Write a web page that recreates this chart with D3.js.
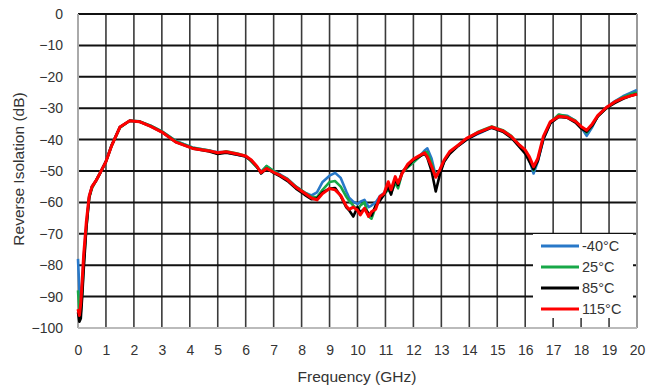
<!DOCTYPE html>
<html><head><meta charset="utf-8">
<script src="https://cdn.jsdelivr.net/npm/d3@7"></script>
<style>body{margin:0;background:#fff}svg{display:block}</style>
</head><body><svg id="c" width="647" height="389"></svg>
<script>
const freq = [
 0, 0.05, 0.1, 0.15, 0.2, 0.3, 0.4, 0.5, 0.65, 0.8,
 1.0, 1.2, 1.5, 1.85, 2.2, 2.6, 3.0, 3.5, 4.1, 4.7,
 5.0, 5.3, 5.7, 6.0, 6.2, 6.4, 6.55, 6.75, 7.0, 7.25,
 7.5, 7.8, 8.1, 8.35, 8.55, 8.75, 9.0, 9.2, 9.4, 9.6,
 9.7, 9.85, 10.0, 10.1, 10.25, 10.4, 10.5, 10.65, 10.8, 10.95, 11.1, 11.2, 11.35, 11.45, 11.6,
 11.8, 12.0, 12.2, 12.4, 12.5, 12.65, 12.8, 12.95, 13.1, 13.3,
 13.6, 13.9, 14.3, 14.8, 15.2, 15.5, 15.8, 16.0, 16.15, 16.3,
 16.45, 16.65, 16.9, 17.2, 17.5, 17.8, 18.0, 18.2, 18.4, 18.6,
 18.9, 19.2, 19.5, 19.8, 20.0];
const blueM40 = [
 -78, -88, -91, -86, -78, -67, -58, -55, -53, -50.5,
 -46.8, -41.8, -36, -34, -34.2, -35.6, -37.4, -40.4, -42.5, -43.5,
 -44, -44, -44.8, -45.4, -46.8, -48.8, -50.2, -48.5, -50, -51.2,
 -52.5, -55, -56.8, -57.8, -56.8, -53.5, -51.5, -50.6, -52.2, -56.5,
 -58.5, -59.8, -60.5, -59.8, -59.2, -61.5, -61, -60, -58, -57, -56, -57, -53.5, -55, -50.5,
 -48.5, -47.2, -45.5, -43.5, -42.8, -46, -51.5, -49.8, -47, -44.2,
 -42, -40, -38.2, -36.2, -37.2, -39.2, -42.2, -44, -46.5, -50.8,
 -47, -40, -34.8, -32.2, -32.4, -34, -36, -38.8, -36, -32.4,
 -29.8, -27.8, -26.2, -25, -24.2];
const green25 = [
 -88, -95, -95, -89, -80, -68, -58.5, -55.5, -53, -50.5,
 -47, -42, -36.2, -34, -34.2, -35.6, -37.4, -40.5, -42.6, -43.5,
 -44.5, -43.7, -44.4, -45.2, -47, -48.8, -50.4, -48.4, -50, -51.4,
 -52.6, -55, -56.8, -58.2, -58.4, -56, -53.5, -53.2, -55, -58.2,
 -59.5, -61, -62.5, -61, -60, -64.5, -65.2, -61.5, -59, -57.5, -55.8, -57, -53.8, -55.5, -50.5,
 -48.8, -47.2, -45.6, -44, -44, -47.5, -51.8, -50.2, -47, -44.2,
 -41.8, -39.8, -37.6, -35.8, -37, -38.8, -41.8, -43.5, -46, -49.8,
 -46.5, -39.5, -34.5, -32, -32.6, -34, -36, -37.8, -35.5, -32.5,
 -30, -28, -26.5, -25.5, -25];
const black85 = [
 -95, -98, -97, -90, -82, -68, -58.5, -55, -53, -50.5,
 -47, -42, -36, -34, -34.3, -35.8, -37.6, -40.8, -42.8, -43.8,
 -44.6, -44.2, -44.8, -45.4, -46.6, -48.6, -50.8, -49.2, -50.6, -51.8,
 -53.2, -55.6, -57.5, -59, -58.8, -56.8, -55.6, -55.4, -58, -61.6,
 -62.5, -64.5, -61.5, -63.2, -62, -63.5, -64.2, -61, -59.5, -57.5, -55, -57.5, -52.5, -54.5, -50.2,
 -48.5, -46.5, -45.5, -44.5, -45.8, -50, -56.5, -51, -47, -44.5,
 -42, -40, -38, -36.2, -37.5, -39.4, -42.4, -44.5, -47, -49.5,
 -46.8, -39.8, -34.8, -32.8, -33, -34.6, -36.4, -37.5, -35.5, -32.6,
 -30, -28.4, -27, -26, -25.5];
const red115 = [
 -94, -96, -92, -85, -77, -66, -58, -55, -53, -50.5,
 -47, -42, -36, -34, -34.3, -35.8, -37.6, -40.8, -42.8, -43.6,
 -44.2, -43.9, -44.6, -45.2, -46.5, -48.5, -50.5, -49.2, -50.4, -51.5,
 -52.8, -55.2, -57, -58.6, -59.2, -57.2, -55.6, -56, -57.8, -61.2,
 -62.2, -61.5, -62.5, -64, -61.9, -64.5, -63, -62.2, -58.2, -57.2, -53.4, -56, -51.8, -53.9, -50.7,
 -47.8, -46.2, -45.2, -44.2, -45.5, -48.5, -52, -49.5, -46.5, -43.8,
 -41.8, -39.6, -37.8, -36, -37.2, -39, -41.8, -43.3, -45.5, -48.6,
 -46, -39, -34.3, -32.6, -32.9, -34.2, -35.8, -37, -35, -32.3,
 -29.8, -28, -26.8, -26, -25.5];
const seriesNames = ["-40°C", "25°C", "85°C", "115°C"];
const seriesColors = ["#2878c8", "#18a848", "#000000", "#ff0000"];
const seriesValues = [blueM40, green25, black85, red115];
const xTicks = d3.range(0, 21, 1);
const yTicks = d3.range(-100, 1, 10);

const svg = d3.select("#c");
const x = d3.scaleLinear().domain([0, 20]).range([78, 637]);
const y = d3.scaleLinear().domain([-100, 0]).range([328, 14]);
const font = "'Liberation Sans', Arial, sans-serif";

// grid
svg.append("g").selectAll("line").data(xTicks.filter(d => d > 0 && d < 20)).join("line")
  .attr("x1", d => x(d)).attr("x2", d => x(d)).attr("y1", y(0)).attr("y2", y(-100))
  .attr("stroke", "#3a3a3a").attr("stroke-width", 1.6);
svg.append("g").selectAll("line").data(yTicks.filter(d => d > -100)).join("line")
  .attr("x1", x(0)).attr("x2", x(20)).attr("y1", d => y(d)).attr("y2", d => y(d))
  .attr("stroke", "#111").attr("stroke-width", 2);
// borders
svg.append("line").attr("x1", x(0)).attr("x2", x(0)).attr("y1", y(0)).attr("y2", y(-100)).attr("stroke", "#aaa").attr("stroke-width", 2);
svg.append("line").attr("x1", x(20)).attr("x2", x(20)).attr("y1", y(0)).attr("y2", y(-100)).attr("stroke", "#999").attr("stroke-width", 2);
svg.append("line").attr("x1", x(0)).attr("x2", x(20)).attr("y1", y(-100)).attr("y2", y(-100)).attr("stroke", "#bbb").attr("stroke-width", 2);

// axes labels
const yAxis = d3.axisLeft(y).tickValues(yTicks).tickSize(0).tickPadding(15);
const gy = svg.append("g").attr("transform", `translate(${x(0)},0)`).call(yAxis);
gy.select(".domain").remove();
gy.selectAll("text").attr("font-family", font).attr("font-size", 14).attr("fill", "#333");
const xAxis = d3.axisBottom(x).tickValues(xTicks).tickSize(0).tickPadding(17);
const gx = svg.append("g").attr("transform", `translate(0,${y(-100)})`).call(xAxis);
gx.select(".domain").remove();
gx.selectAll("text").attr("font-family", font).attr("font-size", 14).attr("fill", "#333");

svg.append("text").attr("x", 357).attr("y", 382).attr("text-anchor", "middle")
  .attr("font-family", font).attr("font-size", 15.5).attr("fill", "#333").text("Frequency (GHz)");
svg.append("text").attr("transform", "translate(24,169) rotate(-90)").attr("text-anchor", "middle")
  .attr("font-family", font).attr("font-size", 15.5).attr("fill", "#333").text("Reverse Isolation (dB)");

// legend background
svg.append("rect").attr("x", 533).attr("y", 234).attr("width", 100).attr("height", 84).attr("fill", "#fff");

// lines
const line = d3.line().x((d, i) => x(freq[i])).y(d => y(d));
svg.append("g").selectAll("path").data(seriesValues).join("path")
  .attr("d", d => line(d)).attr("fill", "none")
  .attr("stroke", (d, i) => seriesColors[i])
  .attr("stroke-width", (d, i) => i === 3 ? 3 : 2.6)
  .attr("stroke-linejoin", "round");

// legend
const lg = svg.append("g").selectAll("g").data(seriesNames).join("g")
  .attr("transform", (d, i) => `translate(541,${246 + i * 21})`);
lg.append("line").attr("x1", 0).attr("x2", 38).attr("stroke", (d, i) => seriesColors[i]).attr("stroke-width", 3);
lg.append("text").attr("x", 41).attr("y", 5).attr("font-family", font)
  .attr("font-size", 14.5).attr("fill", "#333").text(d => d);
</script></body></html>
